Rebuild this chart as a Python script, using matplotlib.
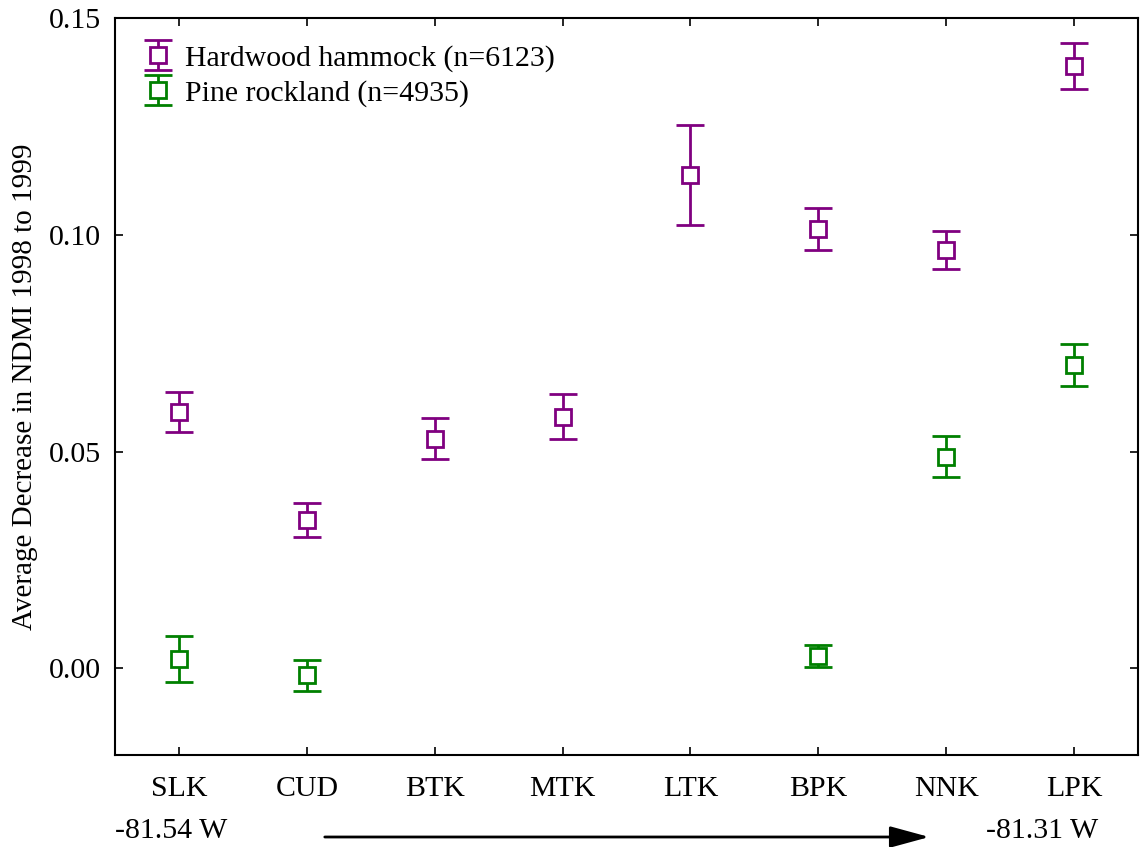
import matplotlib
matplotlib.use("Agg")
import matplotlib.pyplot as plt
import numpy as np

plt.rcParams['font.family'] = ['Liberation Serif', 'DejaVu Serif']

sites = ['SLK', 'CUD', 'BTK', 'MTK', 'LTK', 'BPK', 'NNK', 'LPK']

# hardwood hammock: mean and error half-width
hh_sites = ['SLK', 'CUD', 'BTK', 'MTK', 'LTK', 'BPK', 'NNK', 'LPK']
hh_mean = [0.0592, 0.0343, 0.0530, 0.0580, 0.1138, 0.1014, 0.0965, 0.1389]
hh_err = [0.0046, 0.0039, 0.0047, 0.0052, 0.0115, 0.0048, 0.0043, 0.0053]

# pine rockland
pr_sites = ['SLK', 'CUD', 'BPK', 'NNK', 'LPK']
pr_mean = [0.0021, -0.0016, 0.0028, 0.0488, 0.0700]
pr_err = [0.0053, 0.0036, 0.0025, 0.0047, 0.0048]

hh_label = 'Hardwood hammock (n=6123)'
pr_label = 'Pine rockland (n=4935)'

fs = 21.5

fig = plt.figure(figsize=(11.41, 8.47), dpi=100)
ax = fig.add_axes([0.1008, 0.1086, 0.8966, 0.8701])

hx = [sites.index(s) for s in hh_sites]
px = [sites.index(s) for s in pr_sites]

kw = dict(fmt='s', markersize=11, markerfacecolor='white', markeredgewidth=2,
          elinewidth=2, capsize=10, capthick=2, linestyle='none')
ax.errorbar(hx, hh_mean, yerr=hh_err, color='#800080', label=hh_label, **kw)
ax.errorbar(px, pr_mean, yerr=pr_err, color='#008000', label=pr_label, **kw)

ax.set_xlim(-0.5, 7.5)
ax.set_ylim(-0.02, 0.15)
ax.set_xticks(range(len(sites)))
ax.set_xticklabels(sites)
ax.set_yticks([0.0, 0.05, 0.10, 0.15])
ax.set_yticklabels(['0.00', '0.05', '0.10', '0.15'])
ax.tick_params(direction='in', top=True, right=True, length=6, width=1.2,
               labelsize=fs)
ax.tick_params(axis='x', pad=15)
ax.tick_params(axis='y', pad=10)
for sp in ax.spines.values():
    sp.set_linewidth(1.5)
ax.set_ylabel('Average Decrease in NDMI 1998 to 1999', fontsize=21, labelpad=8)

leg = ax.legend(loc='upper left', frameon=False, fontsize=fs, handlelength=1.1,
                handletextpad=0.35, borderaxespad=0.5, labelspacing=0.25,
                borderpad=0.4)

fig.text(115 / 1141, 1 - 831 / 847, '-81.54 W', fontsize=fs, ha='left', va='center')
fig.text(1098 / 1141, 1 - 831 / 847, '-81.31 W', fontsize=fs, ha='right', va='center')
fig.add_artist(matplotlib.patches.FancyArrowPatch(
    (322 / 1141, 1 - 837 / 847), (932 / 1141, 1 - 837 / 847),
    transform=fig.transFigure, arrowstyle='-|>,head_length=1.1,head_width=0.3',
    mutation_scale=22, color='black', linewidth=2))

fig.savefig('out.png', dpi=100)
